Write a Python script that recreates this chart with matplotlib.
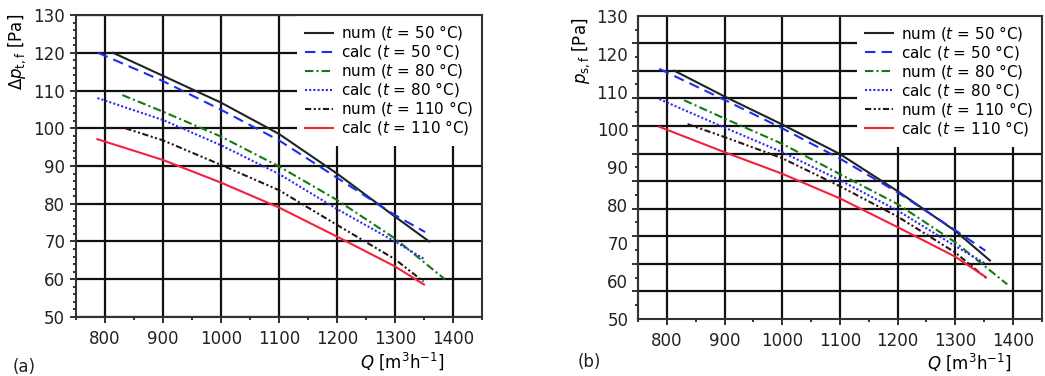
import matplotlib.pyplot as plt
import numpy as np

plt.rcParams['font.family'] = ['DejaVu Sans']
plt.rcParams['mathtext.fontset'] = 'dejavusans'

# (a) total pressure drop
qa_num50 = [814, 900, 1000, 1100, 1200, 1300, 1359]
pa_num50 = [120.0, 113.9, 106.8, 98.5, 88.0, 76.6, 70.0]
qa_calc50 = [788, 900, 1000, 1100, 1200, 1300, 1352]
pa_calc50 = [120.0, 112.5, 104.9, 96.8, 86.9, 77.0, 72.5]
qa_num80 = [830, 900, 1000, 1100, 1200, 1300, 1386]
pa_num80 = [108.8, 104.4, 97.8, 89.9, 81.0, 70.8, 60.0]
qa_calc80 = [787, 900, 1000, 1100, 1200, 1300, 1352]
pa_calc80 = [108.0, 102.2, 95.5, 87.9, 78.6, 70.0, 65.2]
qa_num110 = [835, 900, 1000, 1100, 1200, 1300, 1349]
pa_num110 = [100.0, 96.8, 90.3, 83.6, 74.4, 65.3, 59.4]
qa_calc110 = [787, 900, 1000, 1100, 1200, 1300, 1350]
pa_calc110 = [97.1, 91.6, 85.6, 79.0, 71.3, 63.4, 58.6]

# (b) static pressure
qb_num50 = [813, 900, 1000, 1100, 1200, 1300, 1360]
pb_num50 = [115.5, 108.7, 101.3, 93.5, 83.7, 73.2, 65.4]
qb_calc50 = [787, 900, 1000, 1100, 1200, 1300, 1352]
pb_calc50 = [116.0, 107.8, 100.3, 92.3, 83.4, 73.4, 68.0]
qb_num80 = [830, 900, 1000, 1100, 1200, 1300, 1390]
pb_num80 = [107.7, 102.9, 96.2, 88.2, 80.3, 70.2, 59.1]
qb_calc80 = [787, 900, 1000, 1100, 1200, 1300, 1353]
pb_calc80 = [108.0, 100.5, 94.0, 86.6, 78.6, 69.2, 64.5]
qb_num110 = [836, 900, 1000, 1100, 1200, 1300, 1354]
pb_num110 = [101.4, 98.0, 92.4, 85.0, 77.0, 67.5, 60.7]
qb_calc110 = [787, 900, 1000, 1100, 1200, 1300, 1353]
pb_calc110 = [100.7, 94.0, 88.3, 81.8, 74.2, 66.4, 61.0]

labels = ['num ($t$ = 50 °C)', 'calc ($t$ = 50 °C)', 'num ($t$ = 80 °C)',
          'calc ($t$ = 80 °C)', 'num ($t$ = 110 °C)', 'calc ($t$ = 110 °C)']
colors = ['#1c2424', '#1f2cf0', '#137a13', '#2a2af5', '#2a1414', '#f5203c']
styles = ['-', (0, (5, 3)), (0, (4, 1.5, 1, 1.5)), (0, (1, 1)),
          (0, (3, 1.2, 1, 1.2, 1, 1.2)), '-']

xticks = [800, 900, 1000, 1100, 1200, 1300, 1400]
yticks = [50, 60, 70, 80, 90, 100, 110, 120, 130]
# grid rows in panel (b) do not line up with its labels in the source figure
grid_b = [57.3, 64.5, 71.8, 79.1, 86.4, 93.6, 100.9, 108.2, 115.5, 122.7]

fig = plt.figure(figsize=(10.45, 3.76), dpi=100)
ax1 = fig.add_axes([0.0727, 0.157, 0.3885, 0.803])
ax2 = fig.add_axes([0.6105, 0.152, 0.3865, 0.806])

series_a = [(qa_num50, pa_num50), (qa_calc50, pa_calc50), (qa_num80, pa_num80),
            (qa_calc80, pa_calc80), (qa_num110, pa_num110), (qa_calc110, pa_calc110)]
series_b = [(qb_num50, pb_num50), (qb_calc50, pb_calc50), (qb_num80, pb_num80),
            (qb_calc80, pb_calc80), (qb_num110, pb_num110), (qb_calc110, pb_calc110)]

for ax, series in [(ax1, series_a), (ax2, series_b)]:
    for i, (q, p) in enumerate(series):
        ax.plot(q, p, color=colors[i], linestyle=styles[i], linewidth=1.5,
                label=labels[i], zorder=3)
    ax.set_xlim(750, 1450)
    ax.set_ylim(50, 130)
    ax.set_xticks(xticks)
    ax.set_xticks(np.arange(750, 1451, 50), minor=True)
    ax.tick_params(which='both', direction='out', colors='#222222',
                   labelsize=12, labelcolor='#222222', width=1.3)
    ax.tick_params(which='major', length=4.3)
    ax.tick_params(which='minor', length=2.5)
    ax.tick_params(axis='y', which='major', pad=3.5)
    ax.tick_params(axis='x', which='major', pad=5)
    for s in ax.spines.values():
        s.set_color('#333333')
        s.set_linewidth(1.5)
    ax.grid(True, which='major', axis='x', color='#111111', linewidth=1.6, zorder=1)
    ax.set_axisbelow(True)
    leg = ax.legend(loc='upper right', bbox_to_anchor=(1.0, 1.0), borderaxespad=0,
                    fontsize=11, frameon=True, fancybox=False, framealpha=1,
                    edgecolor='none', facecolor='white', borderpad=0.55,
                    labelspacing=0.0, handlelength=1.8, handletextpad=0.55)
    leg.set_zorder(2)

# (a) grid on the labelled ticks
ax1.set_yticks(yticks)
ax1.set_yticks(np.arange(50, 131, 2), minor=True)
ax1.grid(True, which='major', axis='y', color='#111111', linewidth=1.6, zorder=1)
ax1.set_ylabel(r'$\Delta p_{\mathrm{t,f}}$ [Pa]', fontsize=12)
ax1.yaxis.set_label_coords(-0.118, 0.877)

# (b) grid rows on their own positions, labels on a second axis
ax2.set_yticks(grid_b, labels=[])
ax2.set_yticks(np.sort(np.r_[np.array(grid_b) - 3.636, 126.35]), minor=True)
ax2.grid(True, which='major', axis='y', color='#111111', linewidth=1.6, zorder=1)
sec = ax2.secondary_yaxis('left')
sec.set_yticks(yticks)
sec.tick_params(length=0, pad=7, labelsize=12, labelcolor='#222222')
sec.spines['left'].set_color('#333333')
sec.spines['left'].set_linewidth(1.5)
ax2.set_ylabel(r'$p_{\mathrm{s,f}}$ [Pa]', fontsize=12)
ax2.yaxis.set_label_coords(-0.114, 0.885)

ax1.set_xlabel(r'$Q$ [m$^3$h$^{-1}$]', fontsize=12)
ax1.xaxis.set_label_coords(0.805, -0.112)
ax2.set_xlabel(r'$Q$ [m$^3$h$^{-1}$]', fontsize=12)
ax2.xaxis.set_label_coords(0.82, -0.108)

fig.text(0.0125, 0.025, '(a)', fontsize=12, color='#222222', va='center')
fig.text(0.553, 0.037, '(b)', fontsize=12, color='#222222', va='center')

fig.savefig('out.png', dpi=100)
